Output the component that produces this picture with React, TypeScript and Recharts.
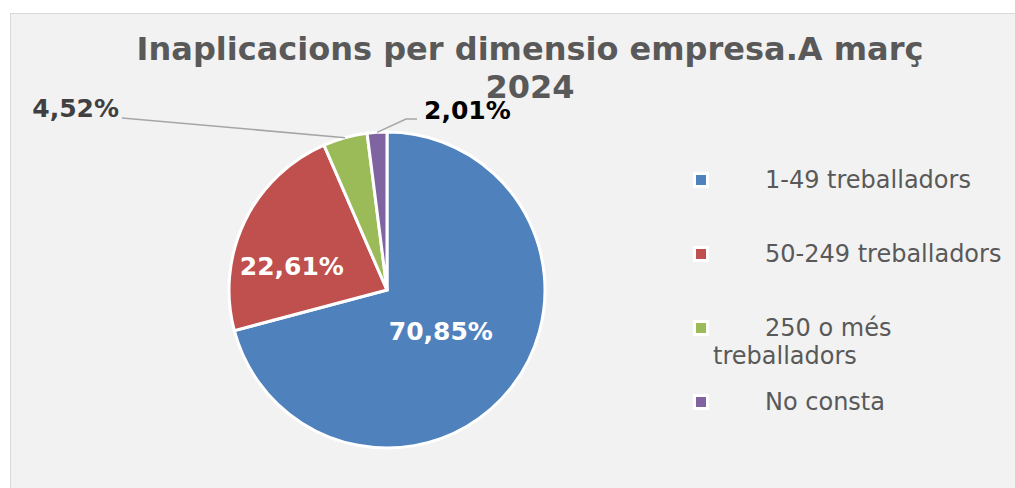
import { PieChart, Pie, Cell, Legend } from "recharts";

const categories = [
  "1-49 treballadors",
  "50-249 treballadors",
  "250 o més treballadors",
  "No consta",
];

const shares = [70.85, 22.61, 4.52, 2.01];

const colors = ["#4f81bd", "#c0504d", "#9bbb59", "#8064a2"];

const titleLines = ["Inaplicacions per dimensio empresa.A març", "2024"];

const data = categories.map((name, i) => ({ name, value: shares[i] }));

const FONT = "'DejaVu Sans', Verdana, sans-serif";
const RADIAN = Math.PI / 180;

const fmt = (v: number) => v.toFixed(2).replace(".", ",") + "%";

function renderLabel(props: any) {
  const { cx, cy, midAngle, outerRadius, index, value } = props;
  const text = fmt(value);

  if (index === 0 || index === 1) {
    const r = index === 0 ? outerRadius * 0.43 : outerRadius * 0.62;
    const a = index === 0 ? midAngle : midAngle + 12;
    const x = cx + r * Math.cos(-a * RADIAN);
    const y = cy + r * Math.sin(-a * RADIAN);
    return (
      <text
        x={x}
        y={y}
        fill="#ffffff"
        fontFamily={FONT}
        fontWeight="bold"
        fontSize={25}
        textAnchor="middle"
        dominantBaseline="central"
      >
        {text}
      </text>
    );
  }

  const ex = cx + outerRadius * Math.cos(-midAngle * RADIAN);
  const ey = cy + outerRadius * Math.sin(-midAngle * RADIAN);

  if (index === 2) {
    return (
      <g>
        <path
          d={`M${ex},${ey} L${cx - 265},${cy - 172}`}
          stroke="#a6a6a6"
          strokeWidth={1.5}
          fill="none"
        />
        <text
          x={cx - 268}
          y={cy - 182}
          fill="#404040"
          fontFamily={FONT}
          fontWeight="bold"
          fontSize={25}
          textAnchor="end"
          dominantBaseline="central"
        >
          {text}
        </text>
      </g>
    );
  }

  return (
    <g>
      <path
        d={`M${ex},${ey} L${cx + 19},${cy - 171} L${cx + 30},${cy - 171}`}
        stroke="#a6a6a6"
        strokeWidth={1.5}
        fill="none"
      />
      <text
        x={cx + 37}
        y={cy - 180}
        fill="#000000"
        fontFamily={FONT}
        fontWeight="bold"
        fontSize={25}
        textAnchor="start"
        dominantBaseline="central"
      >
        {text}
      </text>
    </g>
  );
}

function LegendContent() {
  return (
    <div style={{ fontFamily: FONT, fontSize: 24, color: "#595959" }}>
      {categories.map((name, i) => (
        <div key={name} style={{ position: "relative", height: 74 }}>
          <span
            style={{
              position: "absolute",
              left: 3,
              top: 6,
              width: 10,
              height: 10,
              background: colors[i],
              border: "3px solid #ffffff",
            }}
          />
          <div
            style={{
              position: "absolute",
              left: 23,
              top: 0,
              width: 300,
              lineHeight: "28px",
              textIndent: 52,
              textAlign: "left",
              whiteSpace: "normal",
            }}
          >
            {name}
          </div>
        </div>
      ))}
    </div>
  );
}

export default function App() {
  return (
    <div
      style={{
        position: "absolute",
        left: 0,
        top: 0,
        width: 1015,
        height: 488,
        background: "#ffffff",
        overflow: "hidden",
      }}
    >
      <div
        style={{
          position: "absolute",
          left: 10,
          top: 13,
          width: 1020,
          height: 490,
          background: "#f2f2f2",
          border: "1.5px solid #d9d9d9",
        }}
      />
      <div
        style={{
          position: "absolute",
          left: 0,
          top: 0,
          width: 1015,
          textAlign: "center",
          fontFamily: FONT,
          fontWeight: "bold",
          fontSize: 32,
          color: "#595959",
          lineHeight: "38px",
          paddingTop: 30,
          paddingLeft: 45,
          boxSizing: "border-box",
          whiteSpace: "nowrap",
        }}
      >
        {titleLines.map((l) => (
          <div key={l}>{l}</div>
        ))}
      </div>
      <div style={{ position: "absolute", left: 0, top: 0 }}>
        <PieChart
          width={1015}
          height={488}
          margin={{ top: 0, right: 0, bottom: 0, left: 0 }}
        >
          <Pie
            data={data}
            dataKey="value"
            nameKey="name"
            cx={387}
            cy={290}
            outerRadius={158}
            startAngle={90}
            endAngle={-270}
            stroke="#ffffff"
            strokeWidth={3}
            label={renderLabel}
            labelLine={false}
            isAnimationActive={false}
          >
            {data.map((d, i) => (
              <Cell key={d.name} fill={colors[i]} />
            ))}
          </Pie>
          <Legend
            content={<LegendContent />}
            wrapperStyle={{ left: 690, top: 166, width: 325 }}
          />
        </PieChart>
      </div>
    </div>
  );
}
